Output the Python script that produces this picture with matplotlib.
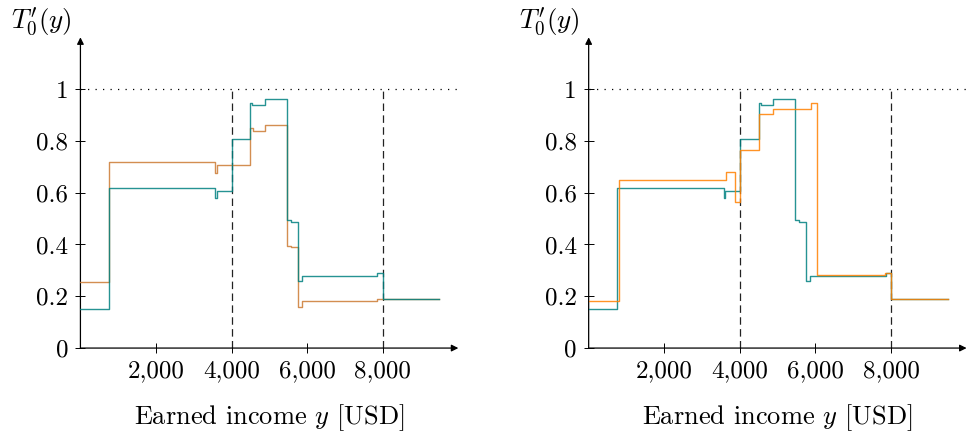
import numpy as np
import matplotlib
matplotlib.use('Agg')
import matplotlib.pyplot as plt
from matplotlib.ticker import FuncFormatter

plt.rcParams["font.family"] = ["serif"]
plt.rcParams["font.serif"] = ["cmr10"]
plt.rcParams["mathtext.fontset"] = "cm"
plt.rcParams["axes.unicode_minus"] = False
plt.rcParams["axes.formatter.use_mathtext"] = True

# step breakpoints (USD) and marginal rates
teal_x = [0, 745, 3570, 3610, 4000, 4495, 4550, 4875, 5455, 5560, 5750, 5865, 7855, 8000, 9500]
teal_y = [0.152, 0.62, 0.58, 0.607, 0.806, 0.947, 0.94, 0.96, 0.493, 0.488, 0.26, 0.28, 0.29, 0.189, 0.189]

left_orange_x = [0, 745, 3570, 3610, 4495, 4570, 4875, 5455, 5560, 5750, 5865, 7855, 8000, 9500]
left_orange_y = [0.254, 0.719, 0.677, 0.707, 0.848, 0.84, 0.862, 0.395, 0.389, 0.16, 0.181, 0.19, 0.189, 0.189]

right_orange_x = [0, 800, 3625, 3885, 4000, 4500, 4875, 5875, 6050, 7840, 8000, 9500]
right_orange_y = [0.183, 0.65, 0.679, 0.566, 0.766, 0.905, 0.925, 0.946, 0.282, 0.29, 0.189, 0.189]

x_ticks = [2000, 4000, 6000, 8000]
y_ticks = [0, 0.2, 0.4, 0.6, 0.8, 1]
y_tick_labels = ["0", "0.2", "0.4", "0.6", "0.8", "1"]
thresholds = [4000, 8000]

TEAL = '#008080'
ORANGE_DARK = '#cc7a33'
ORANGE = '#ff8000'


def draw_panel(ax, orange_x, orange_y, orange_color, orange_on_top):
    ax.set_xlim(0, 10000)
    ax.set_ylim(0, 1.2)
    for s in ax.spines.values():
        s.set_visible(False)

    # axis arrows
    ax.annotate('', xy=(1, 0), xytext=(0, 0), xycoords='axes fraction',
                arrowprops=dict(arrowstyle='-|>', color='black', lw=0.9,
                                mutation_scale=10, shrinkA=0, shrinkB=0))
    ax.annotate('', xy=(0, 1), xytext=(0, 0), xycoords='axes fraction',
                arrowprops=dict(arrowstyle='-|>', color='black', lw=0.9,
                                mutation_scale=10, shrinkA=0, shrinkB=0))

    ax.plot([0, 10000], [1, 1], color='black', lw=0.9, dashes=(1, 5))
    for t in thresholds:
        ax.plot([t, t], [0, 1], color='#222222', lw=0.9, dashes=(6, 3.5))

    z_orange = 4 if orange_on_top else 3
    ax.step(orange_x, orange_y, where='post', color=orange_color, lw=1.0,
            alpha=0.85, zorder=z_orange)
    ax.step(teal_x, teal_y, where='post', color=TEAL, lw=1.0,
            alpha=0.85, zorder=7 - z_orange)

    ax.set_xticks(x_ticks)
    ax.xaxis.set_major_formatter(FuncFormatter(lambda v, p: f"{v:,.0f}"))
    ax.set_yticks(y_ticks)
    ax.set_yticklabels(y_tick_labels)
    ax.tick_params(direction='inout', length=7.5, width=0.7, labelsize=18, pad=5)
    ax.set_xlabel(r"Earned income $y$ [USD]", fontsize=19, labelpad=14)


fig = plt.figure(figsize=(9.69, 4.34), dpi=100)
ax1 = fig.add_axes([0.083, 0.198, 0.39, 0.716])
ax2 = fig.add_axes([0.6075, 0.198, 0.39, 0.716])

draw_panel(ax1, left_orange_x, left_orange_y, ORANGE_DARK, False)
draw_panel(ax2, right_orange_x, right_orange_y, ORANGE, True)

fig.text(0.0423, 0.949, r"$T_0'(y)$", fontsize=19.5, ha='center', va='center')
fig.text(0.5666, 0.949, r"$T_0'(y)$", fontsize=19.5, ha='center', va='center')

plt.savefig("out.png", dpi=100)
plt.close()
